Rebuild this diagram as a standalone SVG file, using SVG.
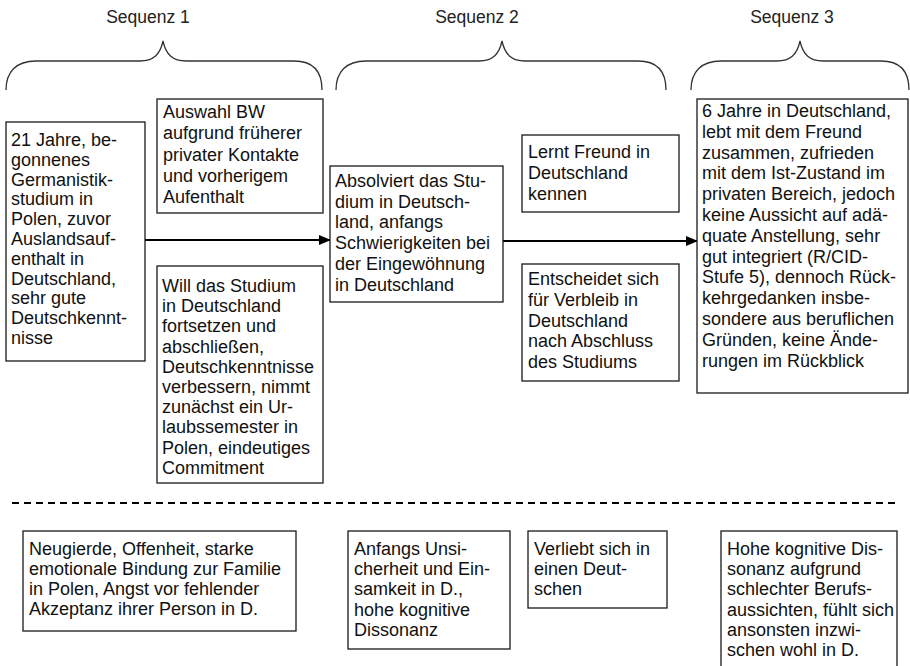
<svg xmlns="http://www.w3.org/2000/svg" width="910" height="666" viewBox="0 0 910 666">
  <defs>
    <style>
      .title { font-family: "Liberation Sans", Arial, sans-serif; font-size: 17.5px; fill: #222; text-anchor: middle; }
      .t { font-family: "Liberation Sans", Arial, sans-serif; font-size: 18px; fill: #111; }
      .box { fill: #fff; stroke: #1a1a1a; stroke-width: 1.3; }
      .brace { fill: none; stroke: #333; stroke-width: 1.3; }
      .flow { stroke: #000; stroke-width: 1.8; fill: none; }
      .sep { stroke: #000; stroke-width: 2; stroke-dasharray: 7 5; fill: none; }
    </style>
    <marker id="arrow" markerWidth="12" markerHeight="10" refX="11" refY="5" orient="auto" markerUnits="userSpaceOnUse">
      <path d="M0,0 L12,5 L0,10 Z" fill="#000"/>
    </marker>
  </defs>

  <rect width="910" height="666" fill="#fff"/>

  <!-- sequence headings with curly braces -->
  <g id="seq-headers">
    <text class="title" x="148" y="23">Sequenz 1</text>
    <text class="title" x="477" y="23">Sequenz 2</text>
    <text class="title" x="792" y="23">Sequenz 3</text>
    <path class="brace" d="M6,90 C6,72 16,61 36,61 L140,61 C153,61 160,55 163,41 C166,55 173,61 186,61 L294,61 C314,61 322,72 322,90"/>
    <path class="brace" d="M336,90 C336,72 346,61 366,61 L479,61 C492,61 499,55 502,41 C505,55 512,61 525,61 L638,61 C658,61 666,72 666,90"/>
    <path class="brace" d="M691,90 C691,72 701,61 721,61 L777,61 C790,61 797,55 800,41 C803,55 810,61 823,61 L881,61 C901,61 909,72 909,90"/>
  </g>

  <!-- connectors -->
  <g id="connectors">
    <line class="flow" x1="145" y1="240" x2="330" y2="240" marker-end="url(#arrow)"/>
    <line class="flow" x1="503" y1="241" x2="697" y2="241" marker-end="url(#arrow)"/>
    <line class="sep" x1="12" y1="503" x2="900" y2="503"/>
  </g>

  <!-- Sequenz 1 -->
  <g id="n-start">
    <rect class="box" x="6" y="122" width="139" height="239"/>
    <text class="t" x="11" y="146">
      <tspan x="11">21 Jahre, be-</tspan>
      <tspan x="11" dy="19.8">gonnenes</tspan>
      <tspan x="11" dy="19.8">Germanistik-</tspan>
      <tspan x="11" dy="19.8">studium in</tspan>
      <tspan x="11" dy="19.8">Polen, zuvor</tspan>
      <tspan x="11" dy="19.8">Auslandsauf-</tspan>
      <tspan x="11" dy="19.8">enthalt in</tspan>
      <tspan x="11" dy="19.8">Deutschland,</tspan>
      <tspan x="11" dy="19.8">sehr gute</tspan>
      <tspan x="11" dy="19.8">Deutschkennt-</tspan>
      <tspan x="11" dy="19.8">nisse</tspan>
    </text>
  </g>

  <g id="n-auswahl">
    <rect class="box" x="157" y="99" width="166" height="114"/>
    <text class="t" x="163" y="118">
      <tspan x="163">Auswahl BW</tspan>
      <tspan x="163" dy="21.3">aufgrund früherer</tspan>
      <tspan x="163" dy="21.3">privater Kontakte</tspan>
      <tspan x="163" dy="21.3">und vorherigem</tspan>
      <tspan x="163" dy="21.3">Aufenthalt</tspan>
    </text>
  </g>

  <g id="n-will">
    <rect class="box" x="157" y="266" width="166" height="217"/>
    <text class="t" x="162" y="292">
      <tspan x="162">Will das Studium</tspan>
      <tspan x="162" dy="20.2">in Deutschland</tspan>
      <tspan x="162" dy="20.2">fortsetzen und</tspan>
      <tspan x="162" dy="20.2">abschließen,</tspan>
      <tspan x="162" dy="20.2">Deutschkenntnisse</tspan>
      <tspan x="162" dy="20.2">verbessern, nimmt</tspan>
      <tspan x="162" dy="20.2">zunächst ein Ur-</tspan>
      <tspan x="162" dy="20.2">laubssemester in</tspan>
      <tspan x="162" dy="20.2">Polen, eindeutiges</tspan>
      <tspan x="162" dy="20.2">Commitment</tspan>
    </text>
  </g>

  <!-- Sequenz 2 -->
  <g id="n-studium">
    <rect class="box" x="330" y="166" width="173" height="136"/>
    <text class="t" x="335" y="187">
      <tspan x="335">Absolviert das Stu-</tspan>
      <tspan x="335" dy="20.7">dium in Deutsch-</tspan>
      <tspan x="335" dy="20.7">land, anfangs</tspan>
      <tspan x="335" dy="20.7">Schwierigkeiten bei</tspan>
      <tspan x="335" dy="20.7">der Eingewöhnung</tspan>
      <tspan x="335" dy="20.7">in Deutschland</tspan>
    </text>
  </g>

  <g id="n-freund">
    <rect class="box" x="522" y="135" width="157" height="77"/>
    <text class="t" x="528" y="158">
      <tspan x="528">Lernt Freund in</tspan>
      <tspan x="528" dy="20.8">Deutschland</tspan>
      <tspan x="528" dy="20.8">kennen</tspan>
    </text>
  </g>

  <g id="n-verbleib">
    <rect class="box" x="522" y="264" width="157" height="117"/>
    <text class="t" x="528" y="285">
      <tspan x="528">Entscheidet sich</tspan>
      <tspan x="528" dy="20.8">für Verbleib in</tspan>
      <tspan x="528" dy="20.8">Deutschland</tspan>
      <tspan x="528" dy="20.8">nach Abschluss</tspan>
      <tspan x="528" dy="20.8">des Studiums</tspan>
    </text>
  </g>

  <!-- Sequenz 3 -->
  <g id="n-heute">
    <rect class="box" x="697" y="99" width="211" height="294"/>
    <text class="t" x="702" y="117">
      <tspan x="702">6 Jahre in Deutschland,</tspan>
      <tspan x="702" dy="20.8">lebt mit dem Freund</tspan>
      <tspan x="702" dy="20.8">zusammen, zufrieden</tspan>
      <tspan x="702" dy="20.8">mit dem Ist-Zustand im</tspan>
      <tspan x="702" dy="20.8">privaten Bereich, jedoch</tspan>
      <tspan x="702" dy="20.8">keine Aussicht auf adä-</tspan>
      <tspan x="702" dy="20.8">quate Anstellung, sehr</tspan>
      <tspan x="702" dy="20.8">gut integriert (R/CID-</tspan>
      <tspan x="702" dy="20.8">Stufe 5), dennoch Rück-</tspan>
      <tspan x="702" dy="20.8">kehrgedanken insbe-</tspan>
      <tspan x="702" dy="20.8">sondere aus beruflichen</tspan>
      <tspan x="702" dy="20.8">Gründen, keine Ände-</tspan>
      <tspan x="702" dy="20.8">rungen im Rückblick</tspan>
    </text>
  </g>

  <!-- lower row: personal / emotional factors -->
  <g id="n-neugierde">
    <rect class="box" x="23" y="531" width="273" height="100"/>
    <text class="t" x="29" y="555">
      <tspan x="29">Neugierde, Offenheit, starke</tspan>
      <tspan x="29" dy="20">emotionale Bindung zur Familie</tspan>
      <tspan x="29" dy="20">in Polen, Angst vor fehlender</tspan>
      <tspan x="29" dy="20">Akzeptanz ihrer Person in D.</tspan>
    </text>
  </g>

  <g id="n-unsicherheit">
    <rect class="box" x="348" y="531" width="162" height="118"/>
    <text class="t" x="354" y="555">
      <tspan x="354">Anfangs Unsi-</tspan>
      <tspan x="354" dy="20.2">cherheit und Ein-</tspan>
      <tspan x="354" dy="20.2">samkeit in D.,</tspan>
      <tspan x="354" dy="20.2">hohe kognitive</tspan>
      <tspan x="354" dy="20.2">Dissonanz</tspan>
    </text>
  </g>

  <g id="n-verliebt">
    <rect class="box" x="528" y="531" width="139" height="77"/>
    <text class="t" x="534" y="555">
      <tspan x="534">Verliebt sich in</tspan>
      <tspan x="534" dy="20.2">einen Deut-</tspan>
      <tspan x="534" dy="20.2">schen</tspan>
    </text>
  </g>

  <g id="n-dissonanz">
    <rect class="box" x="721" y="531" width="176" height="145"/>
    <text class="t" x="727" y="555">
      <tspan x="727">Hohe kognitive Dis-</tspan>
      <tspan x="727" dy="20.2">sonanz aufgrund</tspan>
      <tspan x="727" dy="20.2">schlechter Berufs-</tspan>
      <tspan x="727" dy="20.2">aussichten, fühlt sich</tspan>
      <tspan x="727" dy="20.2">ansonsten inzwi-</tspan>
      <tspan x="727" dy="20.2">schen wohl in D.</tspan>
    </text>
  </g>
</svg>
